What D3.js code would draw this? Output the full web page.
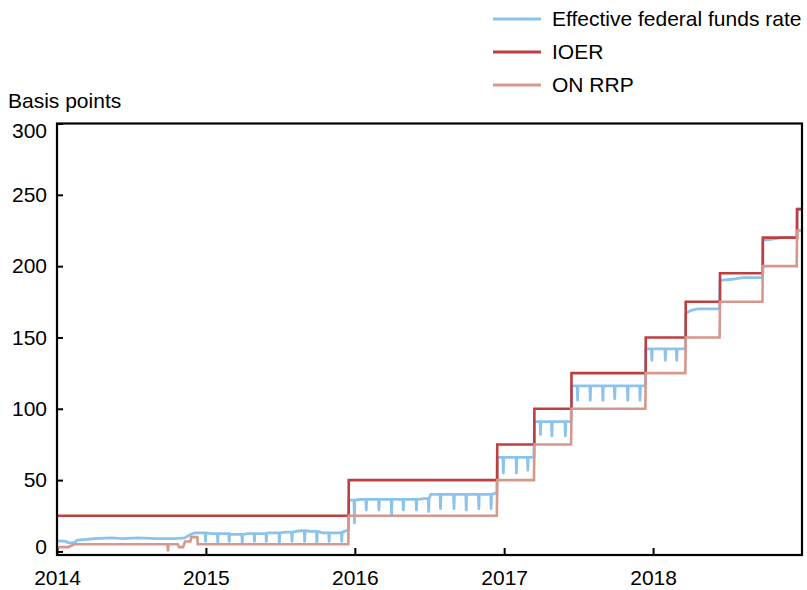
<!DOCTYPE html>
<html>
<head>
<meta charset="utf-8">
<script src="https://cdn.jsdelivr.net/npm/d3@7"></script>
<style>
  body { margin: 0; background: #fff; }
  svg text { font-family: "Liberation Sans", Arial, sans-serif; fill: #000; }
</style>
</head>
<body>
<div id="chart"></div>
<script>
// IOER, step changes
var ioer = [
    ["2014-01-01", 25], ["2015-12-17", 50], ["2016-12-15", 75], ["2017-03-16", 100],
    ["2017-06-15", 125], ["2017-12-14", 150], ["2018-03-22", 175], ["2018-06-14", 195],
    ["2018-09-27", 220], ["2018-12-20", 240], ["2019-01-01", 240]
];

// ON RRP, drawn point to point
var onrrp = [
    ["2014-01-01", 3], ["2014-01-29", 3], ["2014-02-12", 5], ["2014-09-29", 5],
    ["2014-09-30", 0], ["2014-10-01", 5], ["2014-10-24", 5], ["2014-10-27", 3],
    ["2014-11-06", 3], ["2014-11-11", 7], ["2014-11-24", 7], ["2014-11-26", 10],
    ["2014-12-11", 10], ["2014-12-12", 5], ["2015-12-16", 5], ["2015-12-17", 25],
    ["2016-12-14", 25], ["2016-12-15", 50], ["2017-03-15", 50], ["2017-03-16", 75],
    ["2017-06-14", 75], ["2017-06-15", 100], ["2017-12-13", 100], ["2017-12-14", 125],
    ["2018-03-21", 125], ["2018-03-22", 150], ["2018-06-13", 150], ["2018-06-14", 175],
    ["2018-09-26", 175], ["2018-09-27", 200], ["2018-12-19", 200], ["2018-12-20", 225],
    ["2019-01-01", 225]
];

// effective fed funds, usual level
var effr = [
    ["2014-01-01", 7.5], ["2014-01-24", 7], ["2014-01-28", 6], ["2014-02-12", 6],
    ["2014-02-20", 8], ["2014-03-15", 8.5], ["2014-04-01", 9], ["2014-05-15", 9.5],
    ["2014-06-10", 9], ["2014-07-20", 9.5], ["2014-09-01", 9], ["2014-10-15", 9],
    ["2014-11-10", 9.5], ["2014-11-25", 12], ["2014-12-05", 13], ["2014-12-30", 13],
    ["2015-01-15", 12.5], ["2015-03-01", 12], ["2015-04-15", 12.5], ["2015-06-01", 13],
    ["2015-07-15", 13.5], ["2015-08-20", 14.5], ["2015-09-15", 14], ["2015-10-15", 13],
    ["2015-11-15", 13], ["2015-12-01", 13.5], ["2015-12-16", 15],
    ["2015-12-17", 36], ["2016-01-15", 36.5], ["2016-06-20", 37], ["2016-07-05", 40],
    ["2016-12-14", 41],
    ["2016-12-15", 66], ["2017-03-15", 66],
    ["2017-03-16", 91], ["2017-06-14", 91],
    ["2017-06-15", 116], ["2017-12-13", 116],
    ["2017-12-14", 142], ["2018-03-21", 142],
    ["2018-03-22", 167], ["2018-04-05", 169], ["2018-04-20", 170], ["2018-06-13", 170],
    ["2018-06-14", 190], ["2018-07-20", 191], ["2018-08-10", 192], ["2018-09-26", 192],
    ["2018-09-27", 218], ["2018-10-20", 219], ["2018-11-10", 220], ["2018-12-19", 220],
    ["2018-12-20", 240], ["2019-01-01", 240]
];

// effective fed funds, month-end lows
var effrDips = [
    ["2014-12-31", 7], ["2015-01-30", 6.5], ["2015-02-27", 7], ["2015-03-31", 6],
    ["2015-04-30", 7], ["2015-05-29", 7], ["2015-06-30", 6], ["2015-07-31", 7],
    ["2015-08-31", 7], ["2015-09-30", 6], ["2015-10-30", 7], ["2015-11-30", 7],
    ["2015-12-31", 20], ["2016-01-29", 29], ["2016-02-29", 29], ["2016-03-31", 26],
    ["2016-04-29", 29], ["2016-05-31", 29], ["2016-06-30", 28], ["2016-07-29", 30],
    ["2016-08-31", 30], ["2016-09-30", 29], ["2016-10-31", 30], ["2016-11-30", 30],
    ["2016-12-30", 55], ["2017-01-31", 55], ["2017-02-28", 57], ["2017-03-31", 82],
    ["2017-04-28", 81], ["2017-05-31", 81], ["2017-06-30", 106], ["2017-07-31", 106],
    ["2017-08-31", 106], ["2017-09-29", 107], ["2017-10-31", 106], ["2017-11-30", 106],
    ["2017-12-29", 134], ["2018-01-31", 134], ["2018-02-28", 134]
];

var yTicks = [0, 50, 100, 150, 200, 250, 300];
var xTicks = ["2014", "2015", "2016", "2017", "2018"];

var seriesNames = ["Effective federal funds rate", "IOER", "ON RRP"];
var colors = ["#8cc3ea", "#bf3f40", "#d6978c"];

(function() {
    var width = 807,
        height = 590;

    var parse = d3.utcParse("%Y-%m-%d");
    var parseYear = d3.utcParse("%Y");

    var svg = d3.select("#chart")
        .append("svg")
        .attr("width", width)
        .attr("height", height);

    var x = d3.scaleUtc()
        .domain([parse("2014-01-01"), parse("2019-01-01")])
        .range([57, 802]);

    var y = d3.scaleLinear()
        .domain([-2.5, 300])
        .range([555, 123.5]);

    // turn usual level + month-end lows into one path
    function levelAt(d) {
        var v = effr[0][1];
        effr.forEach(function(p) {
            if (parse(p[0]) <= d) v = p[1];
        });
        return v;
    }
    var effrPts = effr.map(function(p) { return [parse(p[0]), p[1]]; });
    effrDips.forEach(function(p) {
        var d = parse(p[0]);
        var before = d3.utcDay.offset(d, -1), after = d3.utcDay.offset(d, 1);
        effrPts.push([before, levelAt(before)]);
        effrPts.push([d, p[1]]);
        effrPts.push([after, levelAt(after)]);
    });
    effrPts.sort(function(a, b) { return a[0] - b[0]; });

    var line = d3.line()
        .x(function(d) { return x(d[0]); })
        .y(function(d) { return y(d[1]); });

    var plot = svg.append("g");

    plot.append("path")
        .datum(effrPts)
        .attr("fill", "none")
        .attr("stroke", colors[0])
        .attr("stroke-width", 2.8)
        .attr("stroke-linejoin", "round")
        .attr("d", line);

    plot.append("path")
        .datum(ioer.map(function(p) { return [parse(p[0]), p[1]]; }))
        .attr("fill", "none")
        .attr("stroke", colors[1])
        .attr("stroke-width", 2.6)
        .attr("d", line.curve(d3.curveStepAfter));

    line.curve(d3.curveLinear);

    plot.append("path")
        .datum(onrrp.map(function(p) { return [parse(p[0]), p[1]]; }))
        .attr("fill", "none")
        .attr("stroke", colors[2])
        .attr("stroke-width", 2.6)
        .attr("d", line);

    // axes, ticks pointing inward
    var yAxis = svg.append("g")
        .attr("transform", "translate(57,0)")
        .call(d3.axisLeft(y).tickValues(yTicks).tickSizeInner(-6).tickSizeOuter(0).tickPadding(10));

    var xAxis = svg.append("g")
        .attr("transform", "translate(0,555)")
        .call(d3.axisBottom(x).tickValues(xTicks.map(parseYear))
            .tickFormat(d3.utcFormat("%Y")).tickSizeInner(-7).tickSizeOuter(0).tickPadding(15));

    [yAxis, xAxis].forEach(function(a) {
        a.select(".domain").remove();
        a.selectAll(".tick line").attr("stroke", "#000").attr("stroke-width", 2);
        a.selectAll(".tick text").style("font-size", "21px");
    });

    // first and last y labels sit a little inside the frame
    yAxis.selectAll(".tick text")
        .attr("dy", function(d) { return d === 300 ? "0.68em" : d === 0 ? "0.1em" : "0.32em"; });

    svg.append("rect")
        .attr("x", 57)
        .attr("y", 123.5)
        .attr("width", 745)
        .attr("height", 431.5)
        .attr("fill", "none")
        .attr("stroke", "#000")
        .attr("stroke-width", 2.2);

    svg.append("text")
        .attr("x", 8)
        .attr("y", 108)
        .style("font-size", "21px")
        .text("Basis points");

    var legend = svg.selectAll(".legend")
        .data(seriesNames)
        .enter().append("g")
        .attr("class", "legend")
        .attr("transform", function(d, i) { return "translate(493," + (19 + i * 33) + ")"; });

    legend.append("line")
        .attr("x1", 0)
        .attr("x2", 48)
        .attr("stroke", function(d, i) { return colors[i]; })
        .attr("stroke-width", 2.8);

    legend.append("text")
        .attr("x", 59)
        .attr("dy", "0.35em")
        .style("font-size", "21px")
        .text(function(d) { return d; });
})();
</script>
</body>
</html>
